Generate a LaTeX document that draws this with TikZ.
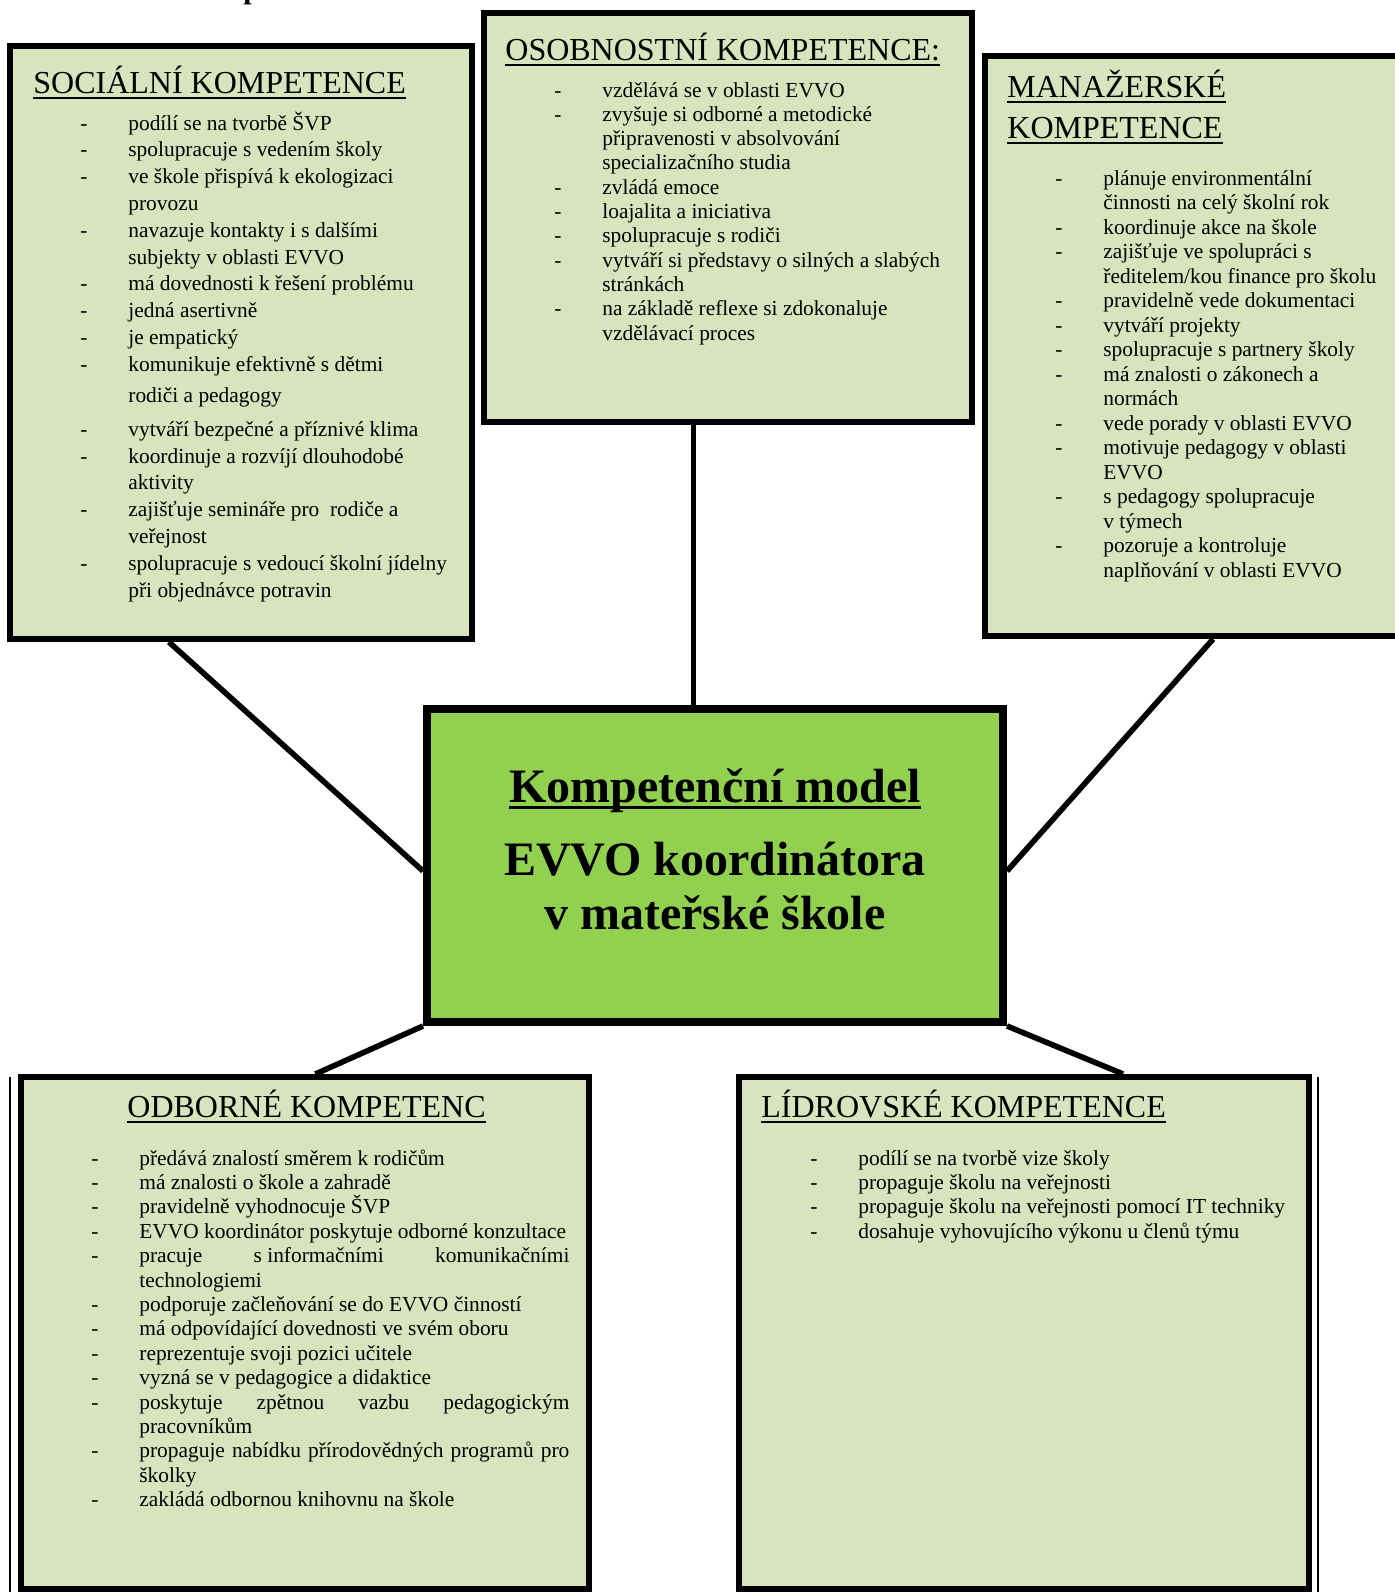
\documentclass[tikz,border=0pt]{standalone}
\usepackage{fontspec}
\setmainfont{Liberation Serif}
\usetikzlibrary{backgrounds,calc}

\definecolor{panelgreen}{HTML}{D7E4BD}
\definecolor{coregreen}{HTML}{92D050}

% list line with a leading dash, and a continuation line
\newcommand\li[1]{\hbox{\hbox to 24pt{-\hss}#1}}
\newcommand\ct[1]{\hbox{\hskip24pt #1}}
% underlined text: #1 drop below baseline, #2 rule thickness
\newcommand\ulbar[3]{\setbox0=\hbox{#3}\rlap{\rule[-#1]{\wd0}{#2}}\box0}
\newcommand\bodyfont{\fontsize{10.7pt}{13pt}\selectfont}
\newcommand\listblock[2]{\vtop{\bodyfont\baselineskip=#1\lineskiplimit=-\maxdimen #2}}

\tikzset{
  panel/.style={draw=black, line width=3pt, fill=panelgreen, inner sep=0pt},
  core/.style={draw=black, line width=4pt, fill=coregreen, inner sep=0pt},
  link/.style={draw=black, line width=2.8pt},
  edge/.style={draw=black, line width=0.8pt},
  txt/.style={anchor=base west, inner sep=0pt},
  head/.style={anchor=base west, inner sep=0pt, font=\fontsize{16pt}{20pt}\selectfont},
  corehead/.style={anchor=base, inner sep=0pt, font=\bfseries\fontsize{24pt}{28pt}\selectfont},
}

\begin{document}
\begin{tikzpicture}[x=0.5pt, y=-0.5pt]
\useasboundingbox (0,0) rectangle (1395,1592);

% fragment of a heading above the frame
\node[anchor=base west, inner sep=0pt, font=\bfseries\fontsize{15pt}{15pt}\selectfont] (topfrag) at (243,-1.5) {p};

% frames
\node[panel, minimum width=231pt, minimum height=296.5pt] (soc) at (241,342.5) {};
\node[panel, minimum width=244pt, minimum height=204.5pt] (osob) at (727.5,217) {};
\node[panel, minimum width=207.5pt, minimum height=290pt] (man) at (1192.5,346) {};
\node[core, minimum width=288pt, minimum height=156.75pt] (ctr) at (715,865.25) {};
\node[panel, minimum width=284pt, minimum height=256pt] (odb) at (305,1333) {};
\node[panel, minimum width=285pt, minimum height=256pt] (lid) at (1024,1333) {};

% connectors behind the frames
\begin{scope}[on background layer]
  \coordinate (socfoot) at ($(soc.south west)!0.346!(soc.south east)$);
  \coordinate (ctrleft) at ($(ctr.north west)!0.518!(ctr.south west)$);
  \coordinate (osobfoot) at ($(osob.south west)!0.431!(osob.south east)$);
  \coordinate (manfoot) at ($(man.south west)!0.549!(man.south east)$);
  \coordinate (ctrright) at ($(ctr.north east)!0.518!(ctr.south east)$);
  \coordinate (odbtop) at ($(odb.north west)!0.518!(odb.north east)$);
  \coordinate (lidtop) at ($(lid.north west)!0.672!(lid.north east)$);
  \draw[link] (socfoot) -- (ctrleft);
  \draw[link] (osobfoot) -- (osobfoot |- ctr.north);
  \draw[link] (manfoot) -- (ctrright);
  \draw[link] (ctr.south west) -- (odbtop);
  \draw[link] (ctr.south east) -- (lidtop);
\end{scope}

% thin outer edges of the two lower frames
\coordinate (odbedge) at ($(odb.north west)+(-8,3)$);
\coordinate (lidedge) at ($(lid.north east)+(6,3)$);
\draw[edge] (odbedge) -- (odbedge |- odb.south);
\draw[edge] (lidedge) -- (lidedge |- lid.south);

% SOCIÁLNÍ KOMPETENCE
\node[head] (sochead) at (33,93) {\ulbar{3pt}{1pt}{SOCIÁLNÍ KOMPETENCE}};
\node[txt] (soclist) at (80,130) {\listblock{13.4pt}{%
  \li{podílí se na tvorbě ŠVP}
  \li{spolupracuje s vedením školy}
  \li{ve škole přispívá k ekologizaci}
  \ct{provozu}
  \li{navazuje kontakty i s dalšími}
  \ct{subjekty v oblasti EVVO}
  \li{má dovednosti k řešení problému}
  \li{jedná asertivně}
  \li{je empatický}
  \li{komunikuje efektivně s dětmi}
  \kern2.1pt
  \ct{rodiči a pedagogy}
  \kern3.6pt
  \li{vytváří bezpečné a příznivé klima}
  \li{koordinuje a rozvíjí dlouhodobé}
  \ct{aktivity}
  \li{zajišťuje semináře pro\ \ rodiče a}
  \ct{veřejnost}
  \li{spolupracuje s vedoucí školní jídelny}
  \ct{při objednávce potravin}}};

% OSOBNOSTNÍ KOMPETENCE
\node[head] (osobhead) at (505,60) {\ulbar{3pt}{1pt}{OSOBNOSTNÍ KOMPETENCE:}};
\node[txt] (osoblist) at (554,97) {\listblock{12.15pt}{%
  \li{vzdělává se v oblasti EVVO}
  \li{zvyšuje si odborné a metodické}
  \ct{připravenosti v absolvování}
  \ct{specializačního studia}
  \li{zvládá emoce}
  \li{loajalita a iniciativa}
  \li{spolupracuje s rodiči}
  \li{vytváří si představy o silných a slabých}
  \ct{stránkách}
  \li{na základě reflexe si zdokonaluje}
  \ct{vzdělávací proces}}};

% MANAŽERSKÉ KOMPETENCE
\node[txt] (manhead) at (1007,97) {\vtop{\fontsize{16pt}{20.5pt}\selectfont
  \hbox{\ulbar{3pt}{1pt}{MANAŽERSKÉ}}
  \hbox{\ulbar{3pt}{1pt}{KOMPETENCE}}}};
\node[txt] (manlist) at (1055,185) {\listblock{12.25pt}{%
  \li{plánuje environmentální}
  \ct{činnosti na celý školní rok}
  \li{koordinuje akce na škole}
  \li{zajišťuje ve spolupráci s}
  \ct{ředitelem/kou finance pro školu}
  \li{pravidelně vede dokumentaci}
  \li{vytváří projekty}
  \li{spolupracuje s partnery školy}
  \li{má znalosti o zákonech a}
  \ct{normách}
  \li{vede porady v oblasti EVVO}
  \li{motivuje pedagogy v oblasti}
  \ct{EVVO}
  \li{s pedagogy spolupracuje}
  \ct{v týmech}
  \li{pozoruje a kontroluje}
  \ct{naplňování v oblasti EVVO}}};

% central title
\node[corehead] (ct1) at (715,802) {\ulbar{3.5pt}{1.5pt}{Kompetenční model}};
\node[corehead] (ct2) at (715,875) {EVVO koordinátora};
\node[corehead] (ct3) at (715,929) {v mateřské škole};

% ODBORNÉ KOMPETENCE
\node[head] (odbhead) at (127,1117) {\ulbar{3pt}{1pt}{ODBORNÉ KOMPETENC}};
\node[txt] (odblist) at (91,1165) {\listblock{12.2pt}{%
  \li{předává znalostí směrem k rodičům}
  \li{má znalosti o škole a zahradě}
  \li{pravidelně vyhodnocuje ŠVP}
  \li{EVVO koordinátor poskytuje odborné konzultace}
  \li{\hbox to 215pt{pracuje\hfill s informačními\hfill komunikačními}}
  \ct{technologiemi}
  \li{podporuje začleňování se do EVVO činností}
  \li{má odpovídající dovednosti ve svém oboru}
  \li{reprezentuje svoji pozici učitele}
  \li{vyzná se v pedagogice a didaktice}
  \li{\hbox to 215pt{poskytuje\hfill zpětnou\hfill vazbu\hfill pedagogickým}}
  \ct{pracovníkům}
  \li{\hbox to 215pt{propaguje\hfill nabídku\hfill přírodovědných\hfill programů\hfill pro}}
  \ct{školky}
  \li{zakládá odbornou knihovnu na škole}}};

% LÍDROVSKÉ KOMPETENCE
\node[head] (lidhead) at (761,1117) {\ulbar{3pt}{1pt}{LÍDROVSKÉ KOMPETENCE}};
\node[txt] (lidlist) at (810,1165) {\listblock{12.2pt}{%
  \li{podílí se na tvorbě vize školy}
  \li{propaguje školu na veřejnosti}
  \li{propaguje školu na veřejnosti pomocí IT techniky}
  \li{dosahuje vyhovujícího výkonu u členů týmu}}};

\end{tikzpicture}
\end{document}
